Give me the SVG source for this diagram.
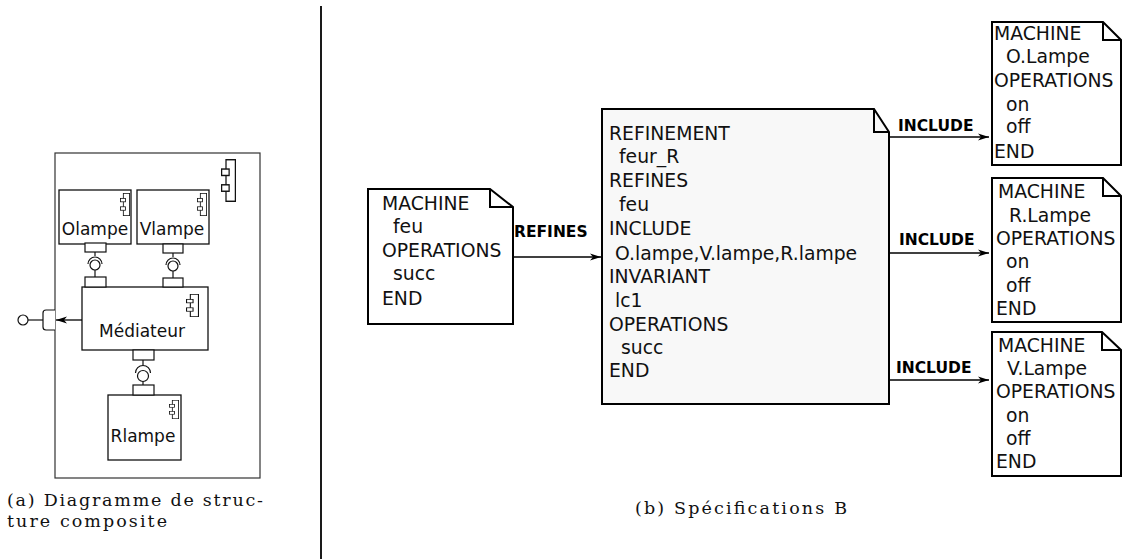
<svg xmlns="http://www.w3.org/2000/svg" width="1123" height="559" viewBox="0 0 1123 559">
<style>
.t{font-family:"DejaVu Sans",sans-serif;font-size:18.8px;fill:#111}
.c{font-family:"DejaVu Sans",sans-serif;font-size:17px;fill:#111}
.b{font-family:"DejaVu Sans",sans-serif;font-size:15.5px;font-weight:bold;fill:#000}
.cap{font-family:"DejaVu Serif",serif;font-size:17.5px;fill:#111}
.note{fill:#fff;stroke:#000;stroke-width:2}
.fold{fill:none;stroke:#000;stroke-width:2}
.box{fill:#fff;stroke:#111;stroke-width:1.3}
.port{fill:#fff;stroke:#111;stroke-width:1.2}
.ln{fill:none;stroke:#111;stroke-width:1.2}
.arr{fill:none;stroke:#000;stroke-width:1.3;marker-end:url(#ah)}
</style>
<defs>
<marker id="ah" markerWidth="12" markerHeight="8" refX="11" refY="4" orient="auto" markerUnits="userSpaceOnUse">
<path d="M0,0.5 L11,4 L0,7.5 L3,4 z" fill="#000"/>
</marker>
<symbol id="comp" viewBox="0 0 12 30" preserveAspectRatio="none">
<rect x="4" y="0.5" width="7.5" height="29" fill="#fff" stroke="#111" stroke-width="1"/>
<rect x="0.5" y="7" width="6" height="4.5" fill="#fff" stroke="#111" stroke-width="1"/>
<rect x="0.5" y="18" width="6" height="4.5" fill="#fff" stroke="#111" stroke-width="1"/>
</symbol>
</defs>
<rect width="1123" height="559" fill="#fff"/>

<!-- divider -->
<line x1="321" y1="6" x2="321" y2="559" stroke="#1a1a1a" stroke-width="2"/>

<!-- left panel: composite structure -->
<g id="composite">
<rect x="55" y="153" width="205" height="325" fill="none" stroke="#333" stroke-width="1.2"/>
<use href="#comp" x="221" y="159" width="15" height="43"/>
</g>
<g id="Olampe">
<rect class="box" x="59" y="190" width="72" height="54"/>
<use href="#comp" x="120" y="193" width="10" height="23"/>
<text class="c" x="95" y="235" text-anchor="middle">Olampe</text>
<rect class="port" x="85" y="243" width="21" height="9"/>
</g>
<g id="Vlampe">
<rect class="box" x="137" y="190" width="72" height="54"/>
<use href="#comp" x="197" y="193" width="10" height="23"/>
<text class="c" x="172" y="235" text-anchor="middle">Vlampe</text>
<rect class="port" x="163" y="244" width="20" height="9"/>
</g>
<g id="Mediateur">
<rect class="box" x="82" y="287" width="126" height="63"/>
<use href="#comp" x="186" y="294" width="13" height="23"/>
<text class="c" x="142" y="337" text-anchor="middle">Médiateur</text>
<rect class="port" x="85" y="277" width="21" height="10"/>
<rect class="port" x="163" y="278" width="20" height="9"/>
<rect class="port" x="133" y="350" width="21" height="10"/>
</g>
<g id="Rlampe">
<rect class="box" x="108" y="395" width="73" height="65"/>
<use href="#comp" x="169" y="400" width="10" height="19"/>
<text class="c" x="143" y="442" text-anchor="middle">Rlampe</text>
<rect class="port" x="133" y="385" width="21" height="10"/>
</g>
<g id="port-ext">
<path class="port" d="M55,310 H46 Q43,310 43,313 V327 Q43,330 46,330 H55"/>
<circle class="port" cx="23" cy="320" r="5"/>
</g>

<g id="connectors">
<!-- ball and socket Olampe - Mediateur -->
<line class="ln" x1="95" y1="252" x2="95" y2="256"/>
<path class="ln" d="M88,264 A7,7 0 0 1 102,264"/>
<circle class="ln" cx="95" cy="265" r="5"/>
<line class="ln" x1="95" y1="270" x2="95" y2="277"/>
<!-- Vlampe - Mediateur -->
<line class="ln" x1="173" y1="253" x2="173" y2="257"/>
<path class="ln" d="M166,265 A7,7 0 0 1 180,265"/>
<circle class="ln" cx="173" cy="266" r="5"/>
<line class="ln" x1="173" y1="271" x2="173" y2="278"/>
<!-- Mediateur - Rlampe -->
<line class="ln" x1="143" y1="360" x2="143" y2="365"/>
<path class="ln" d="M135.5,373 A7.5,7.5 0 0 1 150.5,373"/>
<circle class="ln" cx="143" cy="376" r="5.5"/>
<line class="ln" x1="143" y1="381.5" x2="143" y2="385"/>
<!-- external port -->
<line class="ln" x1="28" y1="320" x2="43" y2="320"/>
<line class="arr" x1="82" y1="320" x2="56" y2="320" stroke-width="1.6"/>

<!-- B specs arrows -->
<line class="arr" x1="513" y1="257" x2="601" y2="257"/>
<text class="b" x="514" y="237">REFINES</text>
<line class="arr" x1="889" y1="137" x2="989" y2="137"/>
<text class="b" x="898" y="131">INCLUDE</text>
<line class="arr" x1="889" y1="253" x2="989" y2="253"/>
<text class="b" x="899" y="245">INCLUDE</text>
<line class="arr" x1="889" y1="380" x2="989" y2="380"/>
<text class="b" x="896" y="373">INCLUDE</text>
</g>

<!-- right panel: B specifications -->
<g id="feu">
<path class="note" d="M368,189 H490 L513,207 V324 H368 Z"/>
<path class="fold" d="M490,189 V207 H513"/>
<text class="t" x="382" y="210">MACHINE</text>
<text class="t" x="393" y="233">feu</text>
<text class="t" x="382" y="257">OPERATIONS</text>
<text class="t" x="393" y="280">succ</text>
<text class="t" x="382" y="305">END</text>
</g>
<g id="feur_R">
<path class="note" d="M602,109 H874 L889,132 V404 H602 Z" style="fill:#f8f8f8"/>
<path class="fold" d="M874,109 V132 H889"/>
<text class="t" x="609" y="140">REFINEMENT</text>
<text class="t" x="619" y="163">feur_R</text>
<text class="t" x="609" y="187">REFINES</text>
<text class="t" x="619" y="211">feu</text>
<text class="t" x="609" y="235">INCLUDE</text>
<text class="t" x="615" y="260">O.lampe,V.lampe,R.lampe</text>
<text class="t" x="609" y="283">INVARIANT</text>
<text class="t" x="615" y="307">lc1</text>
<text class="t" x="609" y="331">OPERATIONS</text>
<text class="t" x="621" y="354">succ</text>
<text class="t" x="609" y="377">END</text>
</g>
<g id="OLampe">
<path class="note" d="M992,22 H1103 L1121,40 V165 H992 Z"/>
<path class="fold" d="M1103,22 V40 H1121"/>
<text class="t" x="994" y="40">MACHINE</text>
<text class="t" x="1006" y="63">O.Lampe</text>
<text class="t" x="994" y="87">OPERATIONS</text>
<text class="t" x="1006" y="111">on</text>
<text class="t" x="1006" y="133">off</text>
<text class="t" x="994" y="158">END</text>
</g>
<g id="RLampe">
<path class="note" d="M992,178 H1103 L1121,196 V322 H992 Z"/>
<path class="fold" d="M1103,178 V196 H1121"/>
<text class="t" x="998" y="198">MACHINE</text>
<text class="t" x="1009" y="222">R.Lampe</text>
<text class="t" x="996" y="245">OPERATIONS</text>
<text class="t" x="1006" y="268">on</text>
<text class="t" x="1006" y="292">off</text>
<text class="t" x="996" y="315">END</text>
</g>
<g id="VLampe">
<path class="note" d="M992,332 H1102 L1121,350 V476 H992 Z"/>
<path class="fold" d="M1102,332 V350 H1121"/>
<text class="t" x="998" y="352">MACHINE</text>
<text class="t" x="1007" y="375">V.Lampe</text>
<text class="t" x="996" y="398">OPERATIONS</text>
<text class="t" x="1006" y="422">on</text>
<text class="t" x="1006" y="445">off</text>
<text class="t" x="996" y="468">END</text>
</g>

<!-- captions -->
<text class="cap" x="7" y="506" textLength="256" lengthAdjust="spacing">(a) Diagramme de struc-</text>
<text class="cap" x="7" y="527" textLength="160" lengthAdjust="spacing">ture composite</text>
<text class="cap" x="635" y="514" textLength="212" lengthAdjust="spacing">(b) Spécifications B</text>
</svg>
